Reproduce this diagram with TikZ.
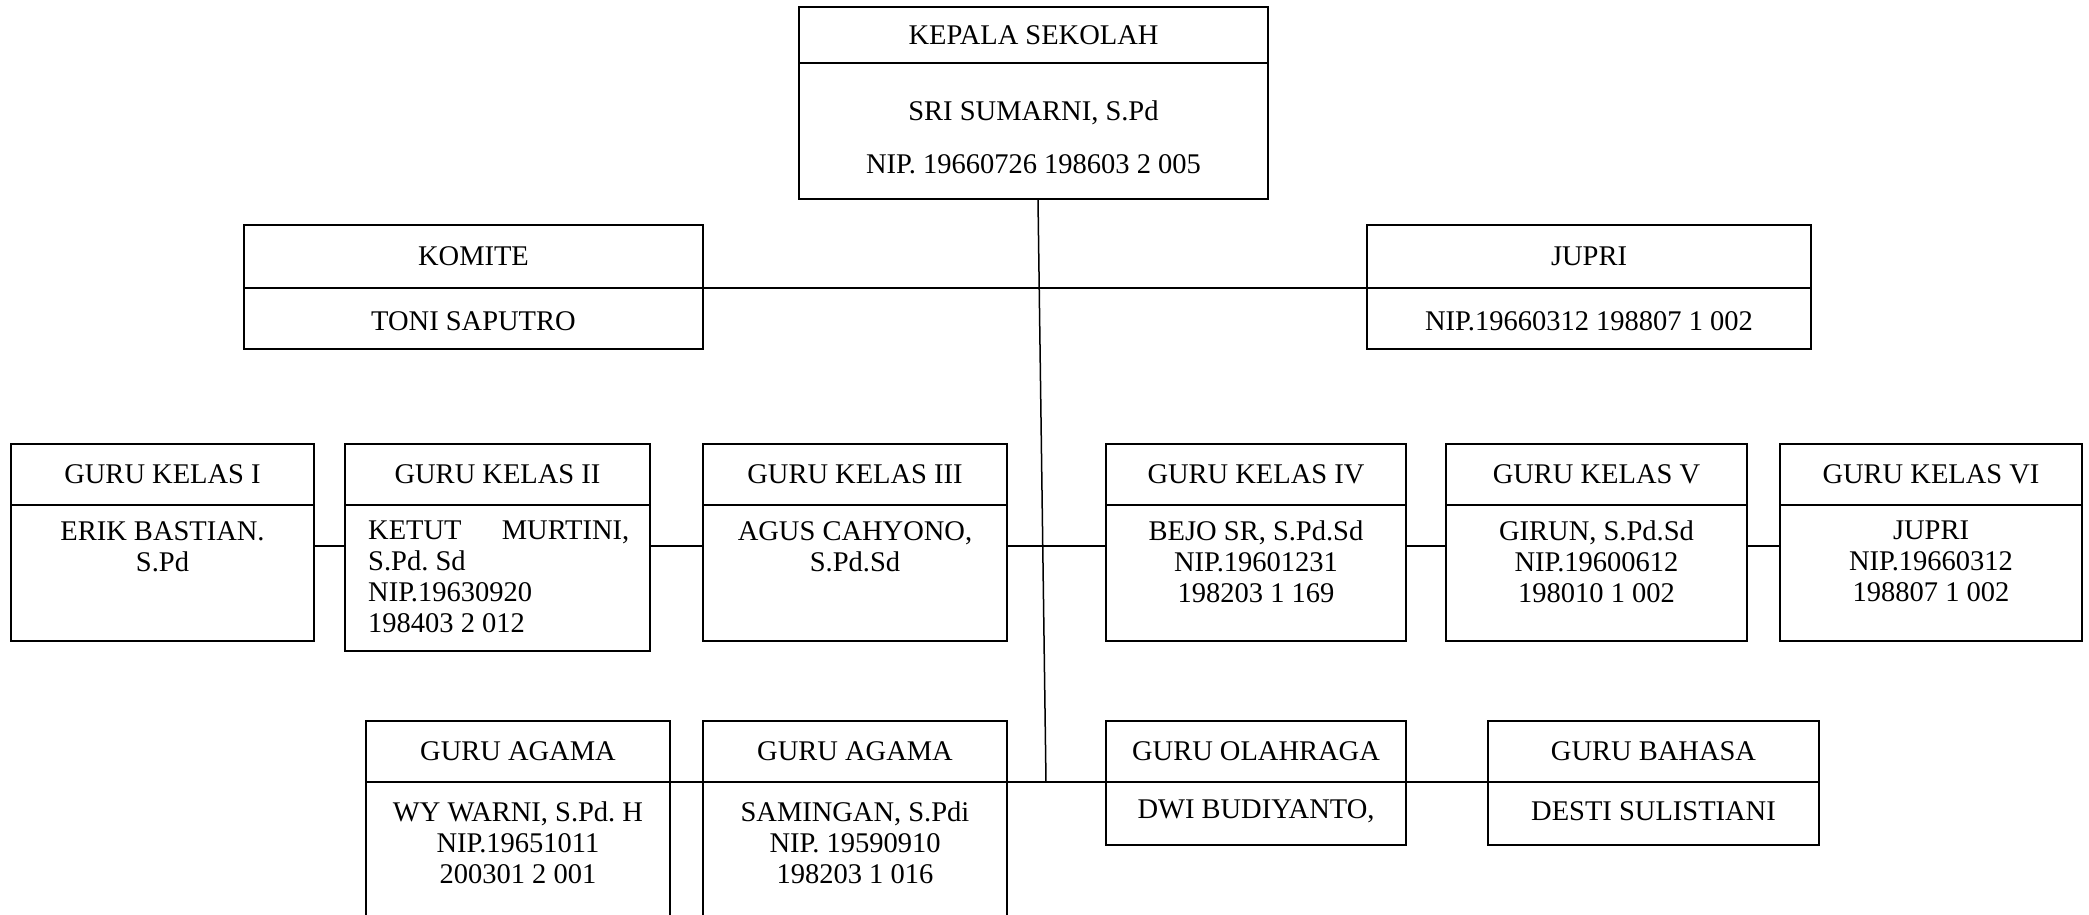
\documentclass[tikz,border=0pt]{standalone}
\usepackage{fontspec}
\setmainfont{Liberation Serif}
\usetikzlibrary{fit}
\frenchspacing
\tikzset{
  frame/.style={draw, line width=1.5pt, inner sep=0pt},
  area/.style={inner sep=0pt},
  lbl/.style={font=\fontsize{28.5}{31}\selectfont, inner sep=0pt, align=center},
  link/.style={line width=1.5pt},
}
% name, x1, y1, x2, y2, divider y
\newcommand\mkbox[6]{%
  \node[frame, fit={(#2,#3) (#4,#5)}] (#1) {};
  \draw[link] (#2,#6) -- (#4,#6);
}
% open box (bottom cut by page edge)
\newcommand\mkopenbox[5]{%
  \node[area, fit={(#2,#3) (#4,918)}] (#1) {};
  \draw[link] (#1.south west) -- (#1.north west) -- (#1.north east) -- (#1.south east);
  \draw[link] (#2,#5) -- (#4,#5);
}
\begin{document}
\begin{tikzpicture}[x=1pt,y=-1pt]
\useasboundingbox (0,0) rectangle (2089,915);

% top
\mkbox{kepala}{799}{7}{1268}{199}{63}
\node[lbl] (kh) at (1033.5,35) {KEPALA SEKOLAH};
\node[lbl] (kn) at (1033.5,113) {SRI SUMARNI, S.Pd};
\node[lbl] (kp) at (1033.5,164) {NIP. 19660726 198603 2 005};

\mkbox{komite}{244}{225}{703}{349}{288}
\node[lbl] (komh) at (473.5,256.5) {KOMITE};
\node[lbl] (komb) at (473.5,321) {TONI SAPUTRO};

\mkbox{jupri}{1367}{225}{1811}{349}{288}
\node[lbl] (juh) at (1589,256.5) {JUPRI};
\node[lbl] (jub) at (1589,321) {NIP.19660312 198807 1 002};

% row 3
\mkbox{k1}{11}{444}{314}{641}{505}
\mkbox{k2}{345}{444}{650}{651}{505}
\mkbox{k3}{703}{444}{1007}{641}{505}
\mkbox{k4}{1106}{444}{1406}{641}{505}
\mkbox{k5}{1446}{444}{1747}{641}{505}
\mkbox{k6}{1780}{444}{2082}{641}{505}

\node[lbl] (k1h) at (162.5,474.5) {GURU KELAS I};
\node[lbl] (k2h) at (497.5,474.5) {GURU KELAS II};
\node[lbl] (k3h) at (855,474.5) {GURU KELAS III};
\node[lbl] (k4h) at (1256,474.5) {GURU KELAS IV};
\node[lbl] (k5h) at (1596.5,474.5) {GURU KELAS V};
\node[lbl] (k6h) at (1931,474.5) {GURU KELAS VI};

\node[lbl, anchor=north] (k1b) at (162.5,521) {ERIK BASTIAN.\\S.Pd};
\node[lbl, anchor=north west, align=left] (k2b) at (368,521)
  {\makebox[261pt][s]{KETUT\hfill MURTINI,}\\S.Pd. Sd\\NIP.19630920\\198403 2 012};
\node[lbl, anchor=north] (k3b) at (855,521) {AGUS CAHYONO,\\S.Pd.Sd};
\node[lbl, anchor=north] (k4b) at (1256,521) {BEJO SR, S.Pd.Sd\\NIP.19601231\\198203 1 169};
\node[lbl, anchor=north] (k5b) at (1596.5,521) {GIRUN, S.Pd.Sd\\NIP.19600612\\198010 1 002};
\node[lbl, anchor=north] (k6b) at (1931,521) {JUPRI\\NIP.19660312\\198807 1 002};

% row 4
\mkopenbox{a1}{366}{721}{670}{782}
\mkopenbox{a2}{703}{721}{1007}{782}
\mkbox{ol}{1106}{721}{1406}{845}{782}
\mkbox{ba}{1488}{721}{1819}{845}{782}

\node[lbl] (a1h) at (518,751.5) {GURU AGAMA};
\node[lbl] (a2h) at (855,751.5) {GURU AGAMA};
\node[lbl] (olh) at (1256,751.5) {GURU OLAHRAGA};
\node[lbl] (bah) at (1653.5,751.5) {GURU BAHASA};

\node[lbl, anchor=north] (a1b) at (518,801.5) {WY WARNI, S.Pd. H\\NIP.19651011\\200301 2 001};
\node[lbl, anchor=north] (a2b) at (855,801.5) {SAMINGAN, S.Pdi\\NIP. 19590910\\198203 1 016};
\node[lbl] (olb) at (1256,811) {DWI BUDIYANTO,};
\node[lbl] (bab) at (1653.5,811) {DESTI SULISTIANI};

% connectors
\coordinate (hub) at (1046,782);
\coordinate (r2) at (0,288);
\coordinate (r3) at (0,546);
\draw[link] ([xshift=4.5pt]kepala.south) -- (hub);
\draw[link] (komite.east |- r2) -- (jupri.west |- r2);
\draw[link] (k1.east |- r3) -- (k2.west |- r3);
\draw[link] (k2.east |- r3) -- (k3.west |- r3);
\draw[link] (k3.east |- r3) -- (k4.west |- r3);
\draw[link] (k4.east |- r3) -- (k5.west |- r3);
\draw[link] (k5.east |- r3) -- (k6.west |- r3);
\draw[link] (a1.east |- hub) -- (ba.west |- hub);
\end{tikzpicture}
\end{document}
